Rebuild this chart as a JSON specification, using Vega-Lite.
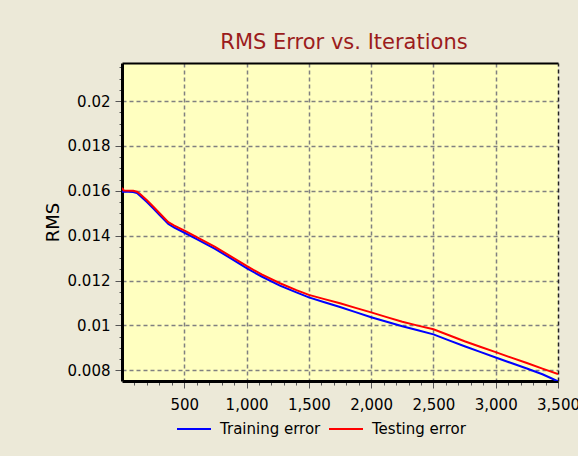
{
  "$schema": "https://vega.github.io/schema/vega-lite/v6.json",
  "width": 436,
  "height": 318,
  "autosize": {"type": "none"},
  "padding": {"left": 122, "top": 63, "right": 20, "bottom": 75},
  "background": "#ece9d8",
  "config": {"view": {"fill": "#ffffc0", "stroke": null}, "font": "DejaVu Sans"},
  "title": {"text": "RMS Error vs. Iterations", "color": "#9b1c1c", "font": "DejaVu Sans", "fontSize": 21, "fontWeight": "normal", "offset": 7, "dx": 4},
  "data": {"values": [
    {"it": 0, "rms": 0.01596, "s": "Training error"},
    {"it": 50, "rms": 0.01596, "s": "Training error"},
    {"it": 90, "rms": 0.01595, "s": "Training error"},
    {"it": 120, "rms": 0.0159, "s": "Training error"},
    {"it": 145, "rms": 0.01578, "s": "Training error"},
    {"it": 200, "rms": 0.0155, "s": "Training error"},
    {"it": 250, "rms": 0.01522, "s": "Training error"},
    {"it": 300, "rms": 0.01493, "s": "Training error"},
    {"it": 372, "rms": 0.01452, "s": "Training error"},
    {"it": 420, "rms": 0.01436, "s": "Training error"},
    {"it": 506, "rms": 0.01412, "s": "Training error"},
    {"it": 600, "rms": 0.01385, "s": "Training error"},
    {"it": 747, "rms": 0.01341, "s": "Training error"},
    {"it": 870, "rms": 0.013, "s": "Training error"},
    {"it": 1000, "rms": 0.01255, "s": "Training error"},
    {"it": 1121, "rms": 0.01218, "s": "Training error"},
    {"it": 1268, "rms": 0.01177, "s": "Training error"},
    {"it": 1400, "rms": 0.01147, "s": "Training error"},
    {"it": 1500, "rms": 0.01125, "s": "Training error"},
    {"it": 1625, "rms": 0.01103, "s": "Training error"},
    {"it": 1750, "rms": 0.01082, "s": "Training error"},
    {"it": 1875, "rms": 0.01059, "s": "Training error"},
    {"it": 2000, "rms": 0.01036, "s": "Training error"},
    {"it": 2125, "rms": 0.01016, "s": "Training error"},
    {"it": 2250, "rms": 0.00996, "s": "Training error"},
    {"it": 2375, "rms": 0.00978, "s": "Training error"},
    {"it": 2500, "rms": 0.0096, "s": "Training error"},
    {"it": 2625, "rms": 0.00933, "s": "Training error"},
    {"it": 2750, "rms": 0.00907, "s": "Training error"},
    {"it": 2875, "rms": 0.00882, "s": "Training error"},
    {"it": 3000, "rms": 0.00857, "s": "Training error"},
    {"it": 3125, "rms": 0.00832, "s": "Training error"},
    {"it": 3250, "rms": 0.00808, "s": "Training error"},
    {"it": 3375, "rms": 0.00782, "s": "Training error"},
    {"it": 3455, "rms": 0.00762, "s": "Training error"},
    {"it": 3500, "rms": 0.0075, "s": "Training error"},
    {"it": 0, "rms": 0.01613, "s": "Testing error"},
    {"it": 15, "rms": 0.01601, "s": "Testing error"},
    {"it": 90, "rms": 0.016, "s": "Testing error"},
    {"it": 120, "rms": 0.01596, "s": "Testing error"},
    {"it": 145, "rms": 0.01586, "s": "Testing error"},
    {"it": 200, "rms": 0.01558, "s": "Testing error"},
    {"it": 250, "rms": 0.0153, "s": "Testing error"},
    {"it": 300, "rms": 0.01501, "s": "Testing error"},
    {"it": 372, "rms": 0.0146, "s": "Testing error"},
    {"it": 420, "rms": 0.01445, "s": "Testing error"},
    {"it": 506, "rms": 0.01421, "s": "Testing error"},
    {"it": 600, "rms": 0.01394, "s": "Testing error"},
    {"it": 747, "rms": 0.0135, "s": "Testing error"},
    {"it": 870, "rms": 0.01309, "s": "Testing error"},
    {"it": 1000, "rms": 0.01265, "s": "Testing error"},
    {"it": 1121, "rms": 0.01227, "s": "Testing error"},
    {"it": 1268, "rms": 0.01188, "s": "Testing error"},
    {"it": 1400, "rms": 0.01157, "s": "Testing error"},
    {"it": 1500, "rms": 0.01136, "s": "Testing error"},
    {"it": 1625, "rms": 0.01117, "s": "Testing error"},
    {"it": 1750, "rms": 0.01099, "s": "Testing error"},
    {"it": 1875, "rms": 0.01078, "s": "Testing error"},
    {"it": 2000, "rms": 0.01058, "s": "Testing error"},
    {"it": 2125, "rms": 0.01037, "s": "Testing error"},
    {"it": 2250, "rms": 0.01016, "s": "Testing error"},
    {"it": 2375, "rms": 0.00999, "s": "Testing error"},
    {"it": 2500, "rms": 0.00983, "s": "Testing error"},
    {"it": 2625, "rms": 0.00956, "s": "Testing error"},
    {"it": 2750, "rms": 0.00929, "s": "Testing error"},
    {"it": 2875, "rms": 0.00905, "s": "Testing error"},
    {"it": 3000, "rms": 0.00881, "s": "Testing error"},
    {"it": 3125, "rms": 0.00856, "s": "Testing error"},
    {"it": 3250, "rms": 0.00832, "s": "Testing error"},
    {"it": 3375, "rms": 0.00807, "s": "Testing error"},
    {"it": 3500, "rms": 0.00783, "s": "Testing error"}
  ]},
  "layer": [
    {
      "mark": {"type": "line", "strokeWidth": 2, "clip": true},
      "encoding": {
        "x": {
          "field": "it", "type": "quantitative",
          "scale": {"domain": [0, 3500], "nice": false, "zero": false},
          "axis": {
            "orient": "bottom",
            "values": [100,200,300,400,500,600,700,800,900,1000,1100,1200,1300,1400,1500,1600,1700,1800,1900,2000,2100,2200,2300,2400,2500,2600,2700,2800,2900,3000,3100,3200,3300,3400,3500],
            "labelExpr": "datum.value % 500 == 0 ? format(datum.value, ',') : ''",
            "labelOverlap": false, "labelFlush": false,
            "labelFont": "DejaVu Sans", "labelFontSize": 15, "labelColor": "#000000", "labelPadding": 9,
            "tickSize": {"condition": {"test": "datum.value % 500 == 0", "value": 7}, "value": 4},
            "tickColor": "#555555", "tickWidth": 1,
            "domainColor": "#000000", "domainWidth": 3,
            "grid": true, "gridDash": [4, 3], "gridColor": "#808080", "gridWidth": 1.5,
            "gridOpacity": {"condition": {"test": "datum.value % 500 == 0 && datum.value < 3500", "value": 1}, "value": 0},
            "title": null
          }
        },
        "y": {
          "field": "rms", "type": "quantitative",
          "scale": {"domain": [0.00752, 0.0217], "nice": false, "zero": false},
          "axis": {
            "orient": "left",
            "values": [0.008,0.0085,0.009,0.0095,0.01,0.0105,0.011,0.0115,0.012,0.0125,0.013,0.0135,0.014,0.0145,0.015,0.0155,0.016,0.0165,0.017,0.0175,0.018,0.0185,0.019,0.0195,0.02,0.0205,0.021,0.0215],
            "labelExpr": "round(datum.value*2000) % 4 == 0 ? format(datum.value, '.3~f') : ''",
            "labelOverlap": false, "labelFlush": false,
            "labelFont": "DejaVu Sans", "labelFontSize": 15, "labelColor": "#000000", "labelPadding": 5,
            "tickSize": {"condition": {"test": "round(datum.value*2000) % 4 == 0", "value": 7}, "value": 3},
            "tickColor": "#555555", "tickWidth": 1,
            "domainColor": "#000000", "domainWidth": 3,
            "grid": true, "gridDash": [4, 3], "gridColor": "#808080", "gridWidth": 1.5,
            "gridOpacity": {"condition": {"test": "round(datum.value*2000) % 4 == 0", "value": 1}, "value": 0},
            "title": "RMS", "titleFont": "DejaVu Sans", "titleFontSize": 18, "titleFontWeight": "normal", "titleColor": "#000000", "titlePadding": 5
          }
        },
        "color": {
          "field": "s", "type": "nominal",
          "scale": {"domain": ["Training error", "Testing error"], "range": ["#0000ff", "#ff0000"]},
          "legend": {
            "orient": "none", "legendX": 54, "legendY": 348, "direction": "horizontal",
            "title": null, "padding": 0,
            "symbolType": "stroke", "symbolSize": 1156, "symbolStrokeWidth": 2,
            "labelFont": "DejaVu Sans", "labelFontSize": 15, "labelColor": "#000000",
            "labelOffset": 8, "columnPadding": 4
          }
        }
      }
    },
    {
      "mark": {"type": "line", "opacity": 0},
      "encoding": {
        "x": {"field": "it", "type": "quantitative", "axis": {"orient": "top", "labels": false, "ticks": false, "grid": false, "domainColor": "#000000", "domainWidth": 2, "title": null}},
        "y": {"field": "rms", "type": "quantitative", "axis": {"orient": "right", "labels": false, "ticks": false, "grid": false, "domainColor": "#222222", "domainWidth": 1.5, "domainDash": [4, 3], "title": null}}
      }
    }
  ],
  "resolve": {"axis": {"x": "independent", "y": "independent"}}
}
